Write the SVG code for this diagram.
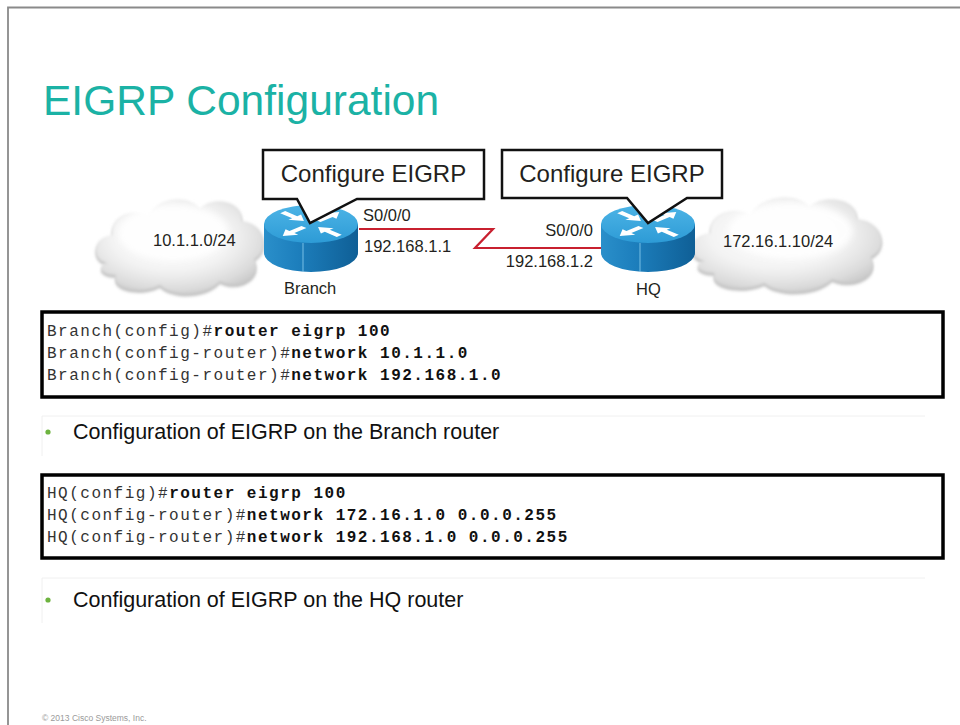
<svg xmlns="http://www.w3.org/2000/svg" width="960" height="725" viewBox="0 0 960 725">
  <defs>
    <style>
      .lbl { font-family: "Liberation Sans", Arial, sans-serif; font-size: 16.5px; fill: #231f20; }
      .callout-txt { font-family: "Liberation Sans", Arial, sans-serif; font-size: 24px; fill: #231f20; }
      .code { font-family: "Liberation Mono", "Courier New", monospace; font-size: 16px; letter-spacing: 1.5px; fill: #333333; }
      .code .b { font-weight: bold; fill: #111111; }
      .bullet { font-family: "Liberation Sans", Arial, sans-serif; font-size: 21.5px; fill: #111111; }
      .callout { fill: #ffffff; stroke: #111111; stroke-width: 2.5; stroke-linejoin: miter; }
      .codebox { fill: #ffffff; stroke: #000000; stroke-width: 3.5; }
      .faint { stroke: #f0f0f0; stroke-width: 1; fill: none; }
      .arrow { fill: #ffffff; }
    </style>
    <radialGradient id="cloudFill" cx="0.45" cy="0.4" r="0.65">
      <stop offset="0" stop-color="#ffffff"/>
      <stop offset="0.55" stop-color="#f3f3f3"/>
      <stop offset="0.85" stop-color="#dcdcdc"/>
      <stop offset="1" stop-color="#c9c9c9"/>
    </radialGradient>
    <filter id="soft" x="-10%" y="-10%" width="120%" height="120%">
      <feGaussianBlur stdDeviation="1.6"/>
    </filter>
    <filter id="softer" x="-20%" y="-20%" width="140%" height="140%">
      <feGaussianBlur stdDeviation="3"/>
    </filter>
    <linearGradient id="routerTop" x1="0" y1="0" x2="0" y2="1">
      <stop offset="0" stop-color="#4db4e6"/>
      <stop offset="1" stop-color="#2d9bd6"/>
    </linearGradient>
    <linearGradient id="routerSide" x1="0" y1="0" x2="1" y2="0">
      <stop offset="0" stop-color="#2a8fca"/>
      <stop offset="0.35" stop-color="#1d7fbd"/>
      <stop offset="1" stop-color="#0f5f96"/>
    </linearGradient>
    <!-- cloud outline in a 180 x 110 local box -->
    <path id="cloudShape" d="M20,78 C2,76 4,52 24,50 C22,30 45,22 60,32 C68,12 100,8 112,24 C124,10 156,16 154,36 C176,38 184,64 166,74 C176,92 150,106 132,96 C118,112 84,112 72,100 C54,110 22,104 28,90 C12,90 8,80 20,78 Z"/>
    <!-- router icon centred on (0,0): radius 47 -->
    <g id="router">
      <path d="M-47,0 V29 A47,19 0 0 0 47,29 V0 Z" fill="url(#routerSide)"/>
      <line x1="-8" y1="19" x2="-8" y2="48" stroke="#8fd0f0" stroke-width="0.8"/>
      <ellipse cx="0" cy="0" rx="47" ry="19" fill="url(#routerTop)"/>
      <g transform="scale(1,0.42)">
        <path class="arrow" transform="rotate(225)" d="M40,-3.5 L23,-3.5 L23,-9 L10,0 L23,9 L23,3.5 L40,3.5 Z"/>
        <path class="arrow" transform="rotate(45)" d="M40,-3.5 L23,-3.5 L23,-9 L10,0 L23,9 L23,3.5 L40,3.5 Z"/>
        <path class="arrow" transform="rotate(315)" d="M10,-3.5 L27,-3.5 L27,-9 L40,0 L27,9 L27,3.5 L10,3.5 Z"/>
        <path class="arrow" transform="rotate(135)" d="M10,-3.5 L27,-3.5 L27,-9 L40,0 L27,9 L27,3.5 L10,3.5 Z"/>
      </g>
    </g>
  </defs>

  <rect width="960" height="725" fill="#ffffff"/>

  <!-- slide frame -->
  <path d="M8,725 V7.5 H960" fill="none" stroke="#8a8a8a" stroke-width="1.8"/>

  <text x="43" y="115" font-family="'Liberation Sans', Arial, sans-serif" font-size="42.5" fill="#1bb2a5">EIGRP Configuration</text>

  <!-- network clouds -->
  <g id="cloud-branch" transform="translate(88,185)">
    <use href="#cloudShape" fill="#c4c4c4" filter="url(#soft)" transform="translate(0,3)"/>
    <use href="#cloudShape" fill="url(#cloudFill)" filter="url(#soft)"/>
    <ellipse cx="85" cy="48" rx="55" ry="28" fill="#ffffff" filter="url(#softer)" opacity="0.9"/>
    <text class="lbl" x="65" y="61">10.1.1.0/24</text>
  </g>
  <g id="cloud-hq">
    <g transform="translate(683,183) scale(1.13,1)">
      <use href="#cloudShape" fill="#c4c4c4" filter="url(#soft)" transform="translate(0,3)"/>
      <use href="#cloudShape" fill="url(#cloudFill)" filter="url(#soft)"/>
      <ellipse cx="95" cy="48" rx="55" ry="28" fill="#ffffff" filter="url(#softer)" opacity="0.9"/>
    </g>
    <text class="lbl" x="723" y="247">172.16.1.10/24</text>
  </g>

  <!-- serial link -->
  <g id="connectors">
    <path d="M359,229 H493 L475,248 H601" fill="none" stroke="#c8202f" stroke-width="2.2" stroke-linejoin="miter"/>
  </g>

  <g id="router-branch">
    <use href="#router" transform="translate(311,224)"/>
    <text class="lbl" x="284" y="294">Branch</text>
    <text class="lbl" x="363" y="221">S0/0/0</text>
    <text class="lbl" x="364" y="252">192.168.1.1</text>
  </g>

  <g id="router-hq">
    <use href="#router" transform="translate(648,224)"/>
    <text class="lbl" x="636" y="295">HQ</text>
    <text class="lbl" x="593" y="236" text-anchor="end">S0/0/0</text>
    <text class="lbl" x="593" y="267" text-anchor="end">192.168.1.2</text>
  </g>

  <!-- callouts -->
  <g id="callout-branch">
    <path class="callout" d="M263,150 H484 V199 H357 L310,223 L297,199 H263 Z"/>
    <text class="callout-txt" x="373.5" y="182" text-anchor="middle">Configure EIGRP</text>
  </g>
  <g id="callout-hq">
    <path class="callout" d="M502,150 H722 V198 H687 L648,223 L627,198 H502 Z"/>
    <text class="callout-txt" x="612" y="182" text-anchor="middle">Configure EIGRP</text>
  </g>

  <!-- Branch configuration -->
  <g id="code-branch">
    <rect class="codebox" x="42" y="312" width="901" height="85"/>
    <text class="code" x="47" y="336">Branch(config)#<tspan class="b">router eigrp 100</tspan></text>
    <text class="code" x="47" y="358">Branch(config-router)#<tspan class="b">network 10.1.1.0</tspan></text>
    <text class="code" x="47" y="380">Branch(config-router)#<tspan class="b">network 192.168.1.0</tspan></text>
  </g>

  <g id="bullet-branch">
    <path class="faint" d="M42,456 V416 H925"/>
    <circle cx="48" cy="432" r="2.6" fill="#6db33f"/>
    <text class="bullet" x="73" y="439">Configuration of EIGRP on the Branch router</text>
  </g>

  <!-- HQ configuration -->
  <g id="code-hq">
    <rect class="codebox" x="42" y="475" width="901" height="83"/>
    <text class="code" x="47" y="498">HQ(config)#<tspan class="b">router eigrp 100</tspan></text>
    <text class="code" x="47" y="520">HQ(config-router)#<tspan class="b">network 172.16.1.0 0.0.0.255</tspan></text>
    <text class="code" x="47" y="542">HQ(config-router)#<tspan class="b">network 192.168.1.0 0.0.0.255</tspan></text>
  </g>

  <g id="bullet-hq">
    <path class="faint" d="M42,623 V578 H925"/>
    <circle cx="48" cy="600" r="2.6" fill="#6db33f"/>
    <text class="bullet" x="73" y="607">Configuration of EIGRP on the HQ router</text>
  </g>

  <text x="42" y="721" font-family="'Liberation Sans', Arial, sans-serif" font-size="8.5" fill="#9a9a9a">© 2013 Cisco Systems, Inc.</text>
</svg>
